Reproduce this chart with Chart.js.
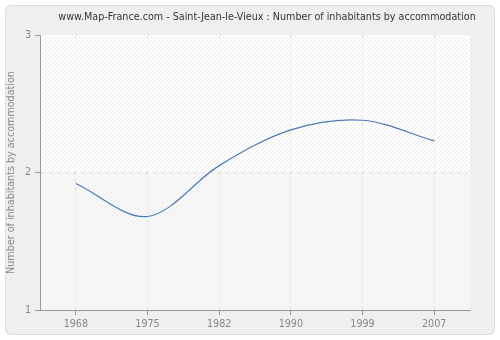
<!DOCTYPE html>
<html>
<head>
<meta charset="utf-8">
<script src="https://cdn.jsdelivr.net/npm/chart.js@4/dist/chart.umd.min.js"></script>
<style>
html,body{margin:0;padding:0;background:#ffffff;}
#wrap{width:500px;height:340px;}
</style>
</head>
<body>
<div id="wrap"><canvas id="c" width="500" height="340"></canvas></div>
<script>
const titleText = "www.Map-France.com - Saint-Jean-le-Vieux : Number of inhabitants by accommodation";
const yAxisTitle = "Number of inhabitants by accommodation";
const years = ["1968", "1975", "1982", "1990", "1999", "2007"];
const inhabitantsPerHousing = [1.92, 1.68, 2.05, 2.31, 2.38, 2.23];
const yTicks = [1, 2, 3];

const FONT = "DejaVu Sans";

function makePattern(bg, line) {
  const n = 4;
  const p = document.createElement('canvas');
  p.width = n; p.height = n;
  const g = p.getContext('2d');
  g.fillStyle = bg; g.fillRect(0, 0, n, n);
  g.fillStyle = line;
  for (let i = 0; i < n; i++) g.fillRect(i, n - 1 - i, 1, 1);
  return document.getElementById('c').getContext('2d').createPattern(p, 'repeat');
}

const bgPlugin = {
  id: 'bgPlugin',
  beforeDraw(chart) {
    const ctx = chart.ctx;
    const W = chart.width, H = chart.height;
    ctx.save();
    ctx.fillStyle = '#ffffff';
    ctx.fillRect(0, 0, W, H);
    const x = 5.5, y = 5.5, w = W - 11, h = H - 11, r = 6;
    ctx.beginPath();
    ctx.moveTo(x + r, y);
    ctx.lineTo(x + w - r, y);
    ctx.quadraticCurveTo(x + w, y, x + w, y + r);
    ctx.lineTo(x + w, y + h - r);
    ctx.quadraticCurveTo(x + w, y + h, x + w - r, y + h);
    ctx.lineTo(x + r, y + h);
    ctx.quadraticCurveTo(x, y + h, x, y + h - r);
    ctx.lineTo(x, y + r);
    ctx.quadraticCurveTo(x, y, x + r, y);
    ctx.closePath();
    ctx.fillStyle = '#efefef';
    ctx.fill();
    ctx.strokeStyle = '#dcdcdc';
    ctx.lineWidth = 1;
    ctx.stroke();
    const a = chart.chartArea;
    const ys = chart.scales.y;
    const mid = Math.round(ys.getPixelForValue(2));
    ctx.fillStyle = makePattern('#ffffff', '#ebebeb');
    ctx.fillRect(a.left, a.top, a.right - a.left, mid - a.top);
    ctx.fillStyle = makePattern('#f8f8f8', '#eeeeee');
    ctx.fillRect(a.left, mid, a.right - a.left, a.bottom - mid);
    ctx.fillStyle = '#333333';
    ctx.font = '9.6px "' + FONT + '"';
    ctx.textAlign = 'center';
    ctx.textBaseline = 'middle';
    ctx.fillText(titleText, 267, 17);
    ctx.restore();
  }
};

new Chart(document.getElementById('c'), {
  type: 'line',
  data: {
    labels: years,
    datasets: [{
      data: inhabitantsPerHousing,
      borderColor: '#4f7bb3',
      borderWidth: 1.2,
      pointRadius: 0,
      fill: false,
      tension: 0.33
    }]
  },
  options: {
    responsive: false,
    animation: false,
    events: [],
    layout: { padding: { top: 35, right: 30, left: 6, bottom: 0 } },
    plugins: { legend: { display: false }, tooltip: { enabled: false }, title: { display: false } },
    scales: {
      x: {
        type: 'category',
        offset: true,
        afterFit(s) { s.height = 30; },
        grid: {
          display: true, offset: false, drawOnChartArea: true, drawTicks: true,
          color: '#e2e2e2', tickColor: '#999999', tickLength: 5, lineWidth: 1,
          tickBorderDash: []
        },
        border: { display: true, color: '#999999', width: 1, dash: [4, 4] },
        ticks: { color: '#888888', font: { family: FONT, size: 9.6 }, padding: 4, maxRotation: 0 }
      },
      y: {
        min: 1, max: 3,
        afterFit(s) { s.width = 34; },
        afterBuildTicks(s) { s.ticks = yTicks.map(v => ({ value: v })); },
        grid: {
          color: (c) => (c.tick && c.tick.value === 2) ? '#e2e2e2' : 'rgba(0,0,0,0)',
          tickColor: '#999999', tickLength: 5, lineWidth: 1, tickBorderDash: []
        },
        border: { display: true, color: '#999999', width: 1, dash: [4, 4] },
        ticks: { color: '#888888', font: { family: FONT, size: 9.6 }, padding: 4 },
        title: { display: true, text: yAxisTitle, color: '#888888', font: { family: FONT, size: 9.6 }, padding: 0 }
      }
    }
  },
  plugins: [bgPlugin]
});
</script>
</body>
</html>
